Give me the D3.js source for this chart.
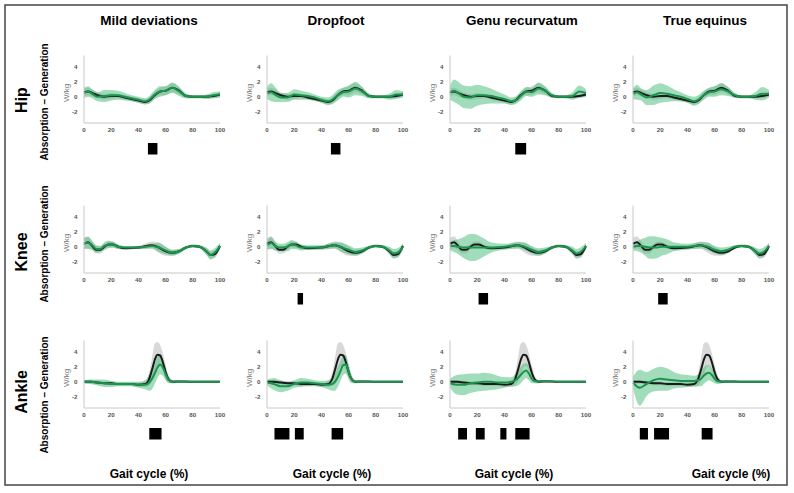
<!DOCTYPE html>
<html lang="en">
<head>
    <title>Joint power - gait groups</title>
    <meta charset="UTF-8">
    <script src="https://cdnjs.cloudflare.com/ajax/libs/d3/7.8.5/d3.min.js"></script>
    <style>
        body { margin: 0; background: #fff; }
        svg { font-family: "Liberation Sans", Arial, sans-serif; }
        .tick-lbl { font-size: 6.2px; font-weight: bold; fill: #555; }
    </style>
</head>
<body>
<div id="chart"></div>
<script>
    // columns / rows
    const groups = ['Mild deviations', 'Dropfoot', 'Genu recurvatum', 'True equinus'];
    const joints = ['Hip', 'Knee', 'Ankle'];
    const xTicks = [0, 20, 40, 60, 80, 100];
    const yTicks = [-2, 0, 2, 4];

    // sample points (% gait cycle) per joint
    const hipPct   = [0, 3, 6, 10, 15, 20, 25, 30, 35, 40, 45, 48, 52, 56, 60, 65, 70, 75, 80, 85, 90, 95, 100];
    const kneePct  = [0, 3, 6, 9, 12, 15, 18, 21, 25, 30, 40, 50, 55, 60, 65, 70, 75, 80, 85, 90, 93, 96, 100];
    const anklePct = [0, 5, 10, 15, 20, 25, 30, 35, 40, 45, 48, 50, 52, 54, 56, 58, 60, 62, 65, 70, 80, 90, 100];

    // typically developing reference (black line, grey band)
    const hipNormMean = [0.6, 0.7, 0.5, 0.2, 0.0, 0.1, 0.1, -0.1, -0.3, -0.5, -0.7, -0.5, 0.2, 0.7, 0.8, 1.2, 0.8, 0.1, 0.0, 0.0, 0.0, 0.1, 0.3];
    const hipNormSd   = [0.5, 0.5, 0.5, 0.4, 0.4, 0.4, 0.3, 0.3, 0.3, 0.3, 0.35, 0.4, 0.5, 0.5, 0.6, 0.6, 0.5, 0.3, 0.2, 0.2, 0.2, 0.3, 0.3];
    const kneeNormMean = [0.4, 0.6, 0.1, -0.4, -0.4, 0.0, 0.3, 0.3, 0.0, -0.2, -0.1, 0.2, -0.1, -0.6, -0.8, -0.6, -0.1, 0.1, 0.0, -0.6, -1.1, -1.0, 0.1];
    const kneeNormSd   = [0.8, 0.8, 0.6, 0.5, 0.5, 0.4, 0.4, 0.4, 0.3, 0.2, 0.2, 0.5, 0.7, 0.6, 0.4, 0.3, 0.2, 0.2, 0.2, 0.4, 0.5, 0.5, 0.3];
    const ankleNormMean = [0.0, 0.0, -0.1, -0.2, -0.2, -0.3, -0.3, -0.3, -0.4, -0.3, 0.4, 1.6, 2.9, 3.6, 3.5, 2.6, 1.3, 0.4, 0.0, 0.05, 0.0, 0.0, 0.0];
    const ankleNormSd   = [0.25, 0.25, 0.25, 0.25, 0.25, 0.25, 0.25, 0.25, 0.3, 0.4, 0.9, 1.6, 2.2, 1.7, 1.4, 1.2, 1.0, 0.6, 0.2, 0.1, 0.05, 0.05, 0.05];

    // patient groups (green line, green band)
    const hipMildMean  = [0.5, 0.7, 0.4, 0.0, 0.1, 0.2, 0.2, 0.0, -0.2, -0.4, -0.6, -0.4, 0.3, 0.7, 0.8, 1.2, 0.7, 0.1, 0.0, 0.0, 0.0, 0.2, 0.3];
    const hipMildSd    = [0.7, 0.7, 0.6, 0.6, 0.8, 0.7, 0.6, 0.5, 0.4, 0.4, 0.4, 0.5, 0.6, 0.7, 0.6, 0.7, 0.6, 0.3, 0.2, 0.2, 0.3, 0.4, 0.4];
    const hipDropMean  = [0.5, 0.6, 0.3, -0.1, -0.1, 0.3, 0.2, 0.1, -0.1, -0.4, -0.6, -0.4, 0.2, 0.6, 0.7, 1.1, 0.7, 0.1, 0.0, 0.0, 0.0, 0.3, 0.3];
    const hipDropSd    = [0.8, 1.2, 1.0, 0.6, 0.6, 0.7, 0.6, 0.5, 0.4, 0.4, 0.5, 0.6, 0.7, 0.6, 0.8, 0.9, 0.6, 0.3, 0.2, 0.2, 0.4, 0.6, 0.4];
    const hipGenuMean  = [0.5, 0.8, 0.5, 0.0, -0.1, 0.2, 0.2, 0.1, -0.1, -0.3, -0.6, -0.5, 0.1, 0.7, 0.6, 1.1, 0.8, 0.2, 0.0, 0.0, 0.1, 0.7, 0.5];
    const hipGenuSd    = [0.9, 1.5, 1.5, 1.5, 1.5, 1.4, 1.2, 1.0, 0.8, 0.6, 0.5, 0.5, 0.6, 0.6, 0.6, 0.8, 0.6, 0.3, 0.2, 0.2, 0.5, 0.8, 0.5];
    const hipEqMean    = [0.4, 0.6, 0.3, -0.1, 0.2, 0.5, 0.4, 0.2, 0.0, -0.3, -0.6, -0.4, 0.2, 0.6, 0.7, 1.0, 0.7, 0.2, 0.0, 0.0, 0.1, 0.4, 0.4];
    const hipEqSd      = [0.7, 1.0, 0.8, 1.0, 1.3, 1.3, 1.1, 0.8, 0.6, 0.5, 0.6, 0.6, 0.6, 0.6, 0.7, 0.8, 0.6, 0.3, 0.2, 0.2, 0.5, 0.9, 0.5];

    const kneeMildMean = [0.5, 0.5, 0.2, -0.3, -0.3, 0.1, 0.3, 0.3, 0.0, -0.1, -0.1, 0.1, -0.1, -0.5, -0.8, -0.6, -0.1, 0.1, 0.0, -0.6, -1.1, -0.8, 0.1];
    const kneeMildSd   = [0.7, 0.8, 0.6, 0.5, 0.4, 0.5, 0.5, 0.4, 0.3, 0.2, 0.2, 0.3, 0.6, 0.5, 0.4, 0.3, 0.2, 0.2, 0.2, 0.5, 0.6, 0.6, 0.4];
    const kneeDropMean = [0.2, 0.5, 0.1, -0.1, -0.1, 0.0, 0.3, 0.2, -0.1, -0.1, -0.1, 0.2, -0.1, -0.4, -0.7, -0.5, -0.1, 0.1, 0.0, -0.5, -0.9, -0.8, 0.0];
    const kneeDropSd   = [0.6, 0.8, 0.6, 0.5, 0.5, 0.6, 0.6, 0.5, 0.4, 0.3, 0.3, 0.4, 0.6, 0.6, 0.5, 0.4, 0.2, 0.2, 0.2, 0.5, 0.6, 0.6, 0.4];
    const kneeGenuMean = [0.1, 0.1, 0.0, -0.1, -0.1, -0.1, -0.1, -0.1, -0.1, -0.1, 0.0, 0.2, 0.0, -0.4, -0.7, -0.5, -0.1, 0.1, 0.0, -0.5, -0.9, -0.7, 0.1];
    const kneeGenuSd   = [0.6, 0.8, 1.0, 1.3, 1.6, 1.8, 1.8, 1.6, 1.2, 0.7, 0.4, 0.4, 0.5, 0.5, 0.5, 0.4, 0.2, 0.2, 0.2, 0.5, 0.6, 0.6, 0.4];
    const kneeEqMean   = [0.0, 0.1, 0.1, 0.0, -0.1, -0.1, -0.1, 0.0, 0.0, 0.0, 0.0, 0.2, 0.0, -0.4, -0.6, -0.4, 0.0, 0.1, 0.0, -0.6, -0.9, -0.7, 0.1];
    const kneeEqSd     = [0.5, 0.7, 0.9, 1.2, 1.5, 1.5, 1.4, 1.2, 1.0, 0.6, 0.4, 0.4, 0.5, 0.5, 0.5, 0.4, 0.2, 0.2, 0.2, 0.5, 0.6, 0.6, 0.4];

    const ankleMildMean = [0.0, 0.0, -0.1, -0.2, -0.3, -0.3, -0.3, -0.3, -0.4, -0.4, -0.1, 0.4, 1.1, 1.9, 2.3, 1.9, 1.0, 0.3, 0.0, 0.0, 0.0, 0.0, 0.0];
    const ankleMildSd   = [0.2, 0.3, 0.4, 0.5, 0.4, 0.3, 0.3, 0.3, 0.4, 0.6, 1.1, 1.4, 1.4, 1.4, 1.3, 1.1, 0.8, 0.4, 0.2, 0.1, 0.05, 0.05, 0.05];
    const ankleDropMean = [-0.1, -0.3, -0.6, -0.6, -0.3, -0.1, -0.1, -0.2, -0.3, -0.4, -0.3, 0.0, 0.6, 1.4, 2.2, 2.3, 1.4, 0.4, 0.0, 0.0, 0.0, 0.0, 0.0];
    const ankleDropSd   = [0.4, 0.8, 0.8, 0.6, 0.5, 0.6, 0.5, 0.4, 0.4, 0.6, 0.9, 1.2, 1.3, 1.3, 1.3, 1.2, 0.9, 0.5, 0.2, 0.1, 0.05, 0.05, 0.05];
    const ankleGenuMean = [-0.2, -0.4, -0.4, -0.2, -0.1, 0.0, 0.0, -0.1, -0.1, 0.0, 0.2, 0.5, 0.9, 1.3, 1.5, 1.1, 0.4, 0.1, 0.05, 0.1, 0.0, 0.0, 0.0];
    const ankleGenuSd   = [0.6, 1.3, 1.4, 1.3, 1.2, 1.2, 1.1, 0.9, 0.7, 0.6, 0.8, 1.0, 1.1, 1.1, 1.0, 0.9, 0.6, 0.3, 0.2, 0.1, 0.05, 0.05, 0.05];
    const ankleEqMean   = [-0.1, -0.8, -0.3, 0.2, 0.4, 0.3, 0.2, 0.1, 0.1, 0.1, 0.2, 0.4, 0.8, 1.1, 1.2, 0.9, 0.4, 0.1, 0.0, 0.0, 0.0, 0.0, 0.0];
    const ankleEqSd     = [0.8, 2.4, 1.6, 1.5, 1.6, 1.5, 1.1, 0.9, 0.8, 0.7, 0.8, 1.0, 1.1, 1.1, 1.0, 0.9, 0.6, 0.4, 0.2, 0.1, 0.05, 0.05, 0.05];

    // significant differences (start, end in % gait cycle), one list per group
    const hipSig   = [[[47, 54]], [[47, 54]], [[48, 56]], []];
    const kneeSig  = [[], [[22.5, 26.5]], [[21, 28]], [[18.5, 25.5]]];
    const ankleSig = [[[48, 57]],
        [[5.5, 16.5], [20.5, 27], [47.5, 56]],
        [[6, 12.5], [19, 25.5], [37, 41.5], [48, 58.5]],
        [[5, 11], [15.5, 26.5], [50.5, 58.5]]];

    const jointData = {
        Hip: {pct: hipPct, norm: [hipNormMean, hipNormSd], sig: hipSig,
            grp: [[hipMildMean, hipMildSd], [hipDropMean, hipDropSd], [hipGenuMean, hipGenuSd], [hipEqMean, hipEqSd]]},
        Knee: {pct: kneePct, norm: [kneeNormMean, kneeNormSd], sig: kneeSig,
            grp: [[kneeMildMean, kneeMildSd], [kneeDropMean, kneeDropSd], [kneeGenuMean, kneeGenuSd], [kneeEqMean, kneeEqSd]]},
        Ankle: {pct: anklePct, norm: [ankleNormMean, ankleNormSd], sig: ankleSig,
            grp: [[ankleMildMean, ankleMildSd], [ankleDropMean, ankleDropSd], [ankleGenuMean, ankleGenuSd], [ankleEqMean, ankleEqSd]]}
    };

    // layout
    const W = 794, H = 493;
    const rowBottom = [123, 273, 408];   // y of x-axis per row
    const plotH = 67.5, plotW = 136;
    const colLeft = c => 84 + 183 * c;
    const titleX = [149, 336, 522, 705];
    const gaitX = [149, 332, 514, 731];
    const jointLblY = [100, 252, 392];
    const absLblY = [102, 244, 395];

    const svg = d3.select('#chart').append('svg')
        .attr('width', W).attr('height', H);

    svg.append('rect')
        .attr('x', 5).attr('y', 5).attr('width', 782).attr('height', 480)
        .attr('fill', 'none').attr('stroke', '#444').attr('stroke-width', 1.5);

    svg.selectAll('text.title').data(groups).join('text')
        .attr('class', 'title')
        .attr('x', (d, i) => titleX[i]).attr('y', 25)
        .attr('text-anchor', 'middle')
        .attr('font-size', 13.5).attr('font-weight', 'bold')
        .text(d => d);

    svg.selectAll('text.gait').data(groups).join('text')
        .attr('class', 'gait')
        .attr('x', (d, i) => gaitX[i]).attr('y', 478)
        .attr('text-anchor', 'middle')
        .attr('font-size', 12).attr('font-weight', 'bold')
        .text('Gait cycle (%)');

    joints.forEach((joint, r) => {
        svg.append('text')
            .attr('transform', `translate(27,${jointLblY[r]}) rotate(-90)`)
            .attr('text-anchor', 'middle')
            .attr('font-size', 16).attr('font-weight', 'bold')
            .text(joint);
        svg.append('text')
            .attr('transform', `translate(48,${absLblY[r]}) rotate(-90)`)
            .attr('text-anchor', 'middle')
            .attr('font-size', 10).attr('font-weight', 'bold')
            .text('Absorption – Generation');

        const jd = jointData[joint];
        const y = d3.scaleLinear().domain([-3.5, 5.5]).range([rowBottom[r], rowBottom[r] - plotH]);

        groups.forEach((g, c) => {
            const x = d3.scaleLinear().domain([0, 100]).range([colLeft(c), colLeft(c) + plotW]);
            const p = svg.append('g');

            const pts = (mean, sd) => jd.pct.map((t, i) => ({t: t, m: mean[i], s: sd[i]}));
            const band = d3.area().curve(d3.curveMonotoneX)
                .x(d => x(d.t)).y0(d => y(d.m - d.s)).y1(d => y(d.m + d.s));
            const line = d3.line().curve(d3.curveMonotoneX)
                .x(d => x(d.t)).y(d => y(d.m));

            const norm = pts(jd.norm[0], jd.norm[1]);
            const grp = pts(jd.grp[c][0], jd.grp[c][1]);

            p.append('path').attr('d', band(norm))
                .attr('fill', '#c4c4c4').attr('fill-opacity', 0.65);
            p.append('path').attr('d', band(grp))
                .attr('fill', '#45bb78').attr('fill-opacity', 0.5);
            p.append('path').attr('d', line(norm))
                .attr('fill', 'none').attr('stroke', '#1a1a1a').attr('stroke-width', 2);
            p.append('path').attr('d', line(grp))
                .attr('fill', 'none').attr('stroke', '#1c944e').attr('stroke-width', 2);

            // axes
            p.append('line')
                .attr('x1', x(0)).attr('x2', x(0)).attr('y1', y(-3.5)).attr('y2', y(5.5))
                .attr('stroke', '#c8c8c8');
            p.append('line')
                .attr('x1', x(0)).attr('x2', x(100)).attr('y1', y(-3.5)).attr('y2', y(-3.5))
                .attr('stroke', '#c8c8c8');

            p.selectAll('text.yt').data(yTicks).join('text')
                .attr('class', 'tick-lbl yt')
                .attr('x', x(0) - 6.5).attr('y', d => y(d) + 2.2)
                .attr('text-anchor', 'end')
                .text(d => d);
            p.selectAll('text.xt').data(xTicks).join('text')
                .attr('class', 'tick-lbl xt')
                .attr('x', d => x(d)).attr('y', y(-3.5) + 8.5)
                .attr('text-anchor', 'middle')
                .text(d => d);

            p.append('text')
                .attr('transform', `translate(${x(0) - 15.5},${y(0.5)}) rotate(-90)`)
                .attr('text-anchor', 'middle')
                .attr('font-size', 8).attr('fill', '#777')
                .text('W/kg');

            p.selectAll('rect.sig').data(jd.sig[c]).join('rect')
                .attr('class', 'sig')
                .attr('x', d => x(d[0])).attr('width', d => x(d[1]) - x(d[0]))
                .attr('y', rowBottom[r] + 20).attr('height', 11.5)
                .attr('fill', '#000');
        });
    });
</script>
</body>
</html>
